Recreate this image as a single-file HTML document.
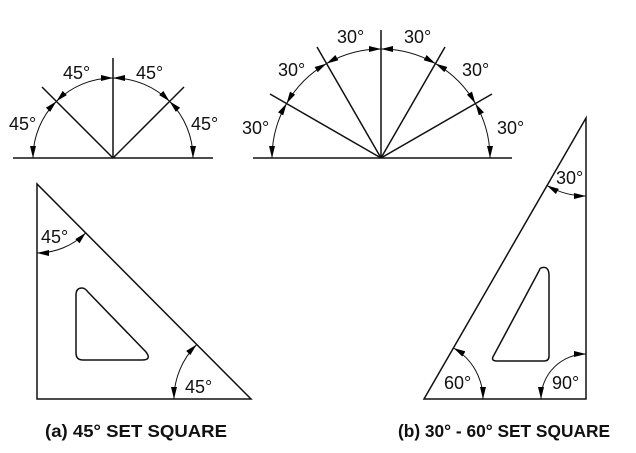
<!DOCTYPE html>
<html><head><meta charset="utf-8"><style>
html,body{margin:0;padding:0;background:#fff}
svg{display:block}
text{font-family:"Liberation Sans",Arial,sans-serif;fill:#111}
</style></head><body>
<svg width="636" height="453" viewBox="0 0 636 453" xmlns="http://www.w3.org/2000/svg">
<defs>
<marker id="a" viewBox="0 0 12 6" refX="12" refY="3" markerWidth="12" markerHeight="6" markerUnits="userSpaceOnUse" orient="auto-start-reverse">
<path d="M0,0 L12,3 L0,6 z" fill="#000"/></marker>
</defs>
<g stroke="#111" fill="none" stroke-width="1.5">
<line x1="13" y1="158" x2="213" y2="158"/>
<line x1="113" y1="158" x2="113" y2="58"/>
<line x1="113" y1="158" x2="42" y2="87"/>
<line x1="113" y1="158" x2="184" y2="87"/>
<line x1="253" y1="158" x2="512" y2="158"/>
<line x1="381" y1="158" x2="381" y2="30"/>
<line x1="381" y1="158" x2="270" y2="94"/>
<line x1="381" y1="158" x2="492" y2="94"/>
<line x1="381" y1="158" x2="317" y2="47"/>
<line x1="381" y1="158" x2="445" y2="47"/>
<path d="M37,184 L37,399 L251,399 Z"/>
<path d="M424,399 L586,399 L586,118 Z"/>
<path d="M82,288 Q76,288 76,295 L76,353 Q76,360 83,360 L142,360 Q152,360 146,352 L88,292 Q85,288 82,288 Z"/>
<path d="M541,268 Q546,266 548,270 Q549,272 549,276 L549,356 Q549,361 544,361 L497,361 Q490,361 494,355 L539,271 Q540,268 541,268 Z"/>
</g>
<g stroke="#111" fill="none" stroke-width="1" marker-start="url(#a)" marker-end="url(#a)">
<path d="M33,158 A80,80 0 0 1 56.4,101.4"/>
<path d="M56.4,101.4 A80,80 0 0 1 113,78"/>
<path d="M113,78 A80,80 0 0 1 169.6,101.4"/>
<path d="M169.6,101.4 A80,80 0 0 1 193,158"/>
<path d="M272,158 A109,109 0 0 1 286.6,103.5"/>
<path d="M286.6,103.5 A109,109 0 0 1 326.5,63.6"/>
<path d="M326.5,63.6 A109,109 0 0 1 381,49"/>
<path d="M381,49 A109,109 0 0 1 435.5,63.6"/>
<path d="M435.5,63.6 A109,109 0 0 1 475.4,103.5"/>
<path d="M475.4,103.5 A109,109 0 0 1 490,158"/>
<path d="M37,253 A69,69 0 0 0 85.8,232.8"/>
<path d="M174,399 A77,77 0 0 1 196.6,344.6"/>
<path d="M586,196 A78,78 0 0 1 547,185.5"/>
<path d="M483,399 A59,59 0 0 0 453.5,348"/>
<path d="M541,399 A45,45 0 0 1 586,354"/>
</g>
<g font-size="18">
<text x="9" y="130">45°</text>
<text x="63" y="79">45°</text>
<text x="136" y="79">45°</text>
<text x="191" y="130">45°</text>
<text x="337" y="43">30°</text>
<text x="404" y="43">30°</text>
<text x="278" y="76">30°</text>
<text x="462" y="76">30°</text>
<text x="242" y="134">30°</text>
<text x="497" y="134">30°</text>
<text x="41" y="243">45°</text>
<text x="185" y="393">45°</text>
<text x="556" y="184">30°</text>
<text x="444" y="389">60°</text>
<text x="552" y="389">90°</text>
</g>
<g font-size="17.5" font-weight="bold">
<text x="45" y="437" textLength="182" lengthAdjust="spacingAndGlyphs">(a) 45° SET SQUARE</text>
<text x="398" y="437" textLength="212" lengthAdjust="spacingAndGlyphs">(b) 30° - 60° SET SQUARE</text>
</g>
</svg>
</body></html>
